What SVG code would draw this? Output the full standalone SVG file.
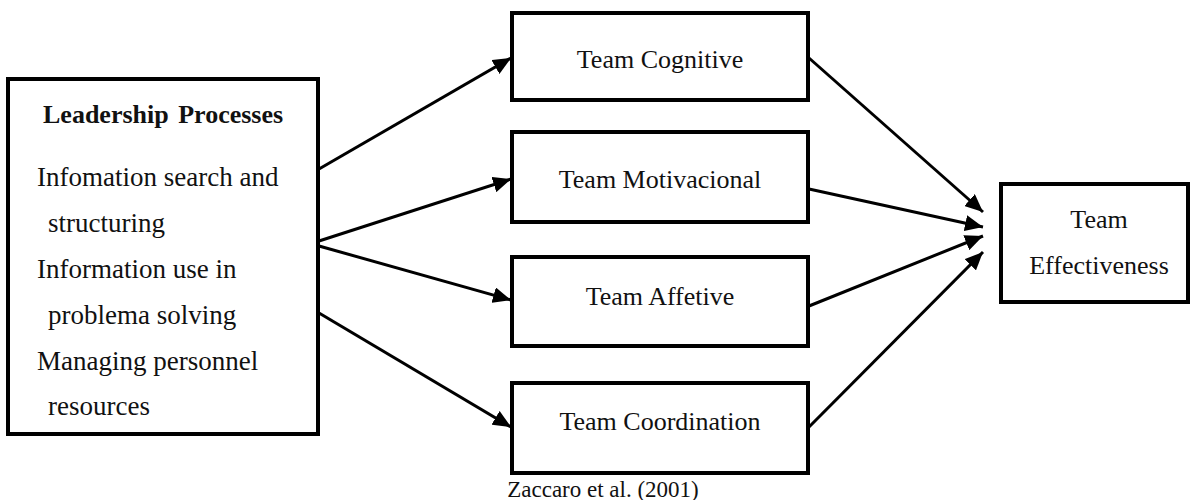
<svg xmlns="http://www.w3.org/2000/svg" width="1195" height="500" viewBox="0 0 1195 500">
  <style>
    .box { fill: #ffffff; stroke: #000000; stroke-width: 4; }
    .lbl { font-family: "Liberation Serif", "Times New Roman", serif; font-size: 26px; fill: #111111; text-anchor: middle; }
    .item { font-family: "Liberation Serif", "Times New Roman", serif; font-size: 27px; fill: #111111; }
    .title { font-family: "Liberation Serif", "Times New Roman", serif; font-size: 26px; font-weight: bold; fill: #111111; word-spacing: 3px; }
    .cap { font-family: "Liberation Serif", "Times New Roman", serif; font-size: 23px; fill: #111111; text-anchor: middle; }
    .edge { stroke: #000000; stroke-width: 3; fill: none; marker-end: url(#head); }
  </style>
  <defs>
    <marker id="head" markerUnits="userSpaceOnUse" markerWidth="20" markerHeight="16" refX="18" refY="8" orient="auto">
      <path d="M0,0 L18,8 L0,16 Z" fill="#000000"/>
    </marker>
  </defs>

  <rect width="1195" height="500" fill="#ffffff"/>

  <g id="connectors">
    <line class="edge" x1="319" y1="169" x2="511" y2="58"/>
    <line class="edge" x1="319" y1="241" x2="511" y2="179"/>
    <line class="edge" x1="319" y1="246" x2="511" y2="300"/>
    <line class="edge" x1="319" y1="313" x2="511" y2="427"/>
    <line class="edge" x1="809" y1="58" x2="983" y2="212"/>
    <line class="edge" x1="809" y1="189" x2="983" y2="227"/>
    <line class="edge" x1="809" y1="306" x2="983" y2="236"/>
    <line class="edge" x1="809" y1="427" x2="983" y2="252"/>
  </g>

  <g id="leadership">
    <rect class="box" x="8" y="79" width="310" height="355"/>
    <text class="title" x="43" y="123">Leadership Processes</text>
    <text class="item" x="37" y="186">Infomation search and</text>
    <text class="item" x="48" y="232">structuring</text>
    <text class="item" x="37" y="278">Information use in</text>
    <text class="item" x="48" y="324">problema solving</text>
    <text class="item" x="37" y="370">Managing personnel</text>
    <text class="item" x="48" y="415">resources</text>
  </g>

  <g id="cognitive">
    <rect class="box" x="512" y="13" width="296" height="87"/>
    <text class="lbl" x="660" y="68">Team Cognitive</text>
  </g>

  <g id="motivacional">
    <rect class="box" x="512" y="132" width="296" height="90"/>
    <text class="lbl" x="660" y="188">Team Motivacional</text>
  </g>

  <g id="affetive">
    <rect class="box" x="512" y="257" width="296" height="89"/>
    <text class="lbl" x="660" y="305">Team Affetive</text>
  </g>

  <g id="coordination">
    <rect class="box" x="512" y="383" width="296" height="90"/>
    <text class="lbl" x="660" y="430">Team Coordination</text>
  </g>

  <g id="effectiveness">
    <rect class="box" x="1001" y="184" width="187" height="118"/>
    <text class="lbl" x="1099" y="228">Team</text>
    <text class="lbl" x="1099" y="274">Effectiveness</text>
  </g>

  <g id="caption">
    <text class="cap" x="603" y="497">Zaccaro et al. (2001)</text>
  </g>
</svg>
